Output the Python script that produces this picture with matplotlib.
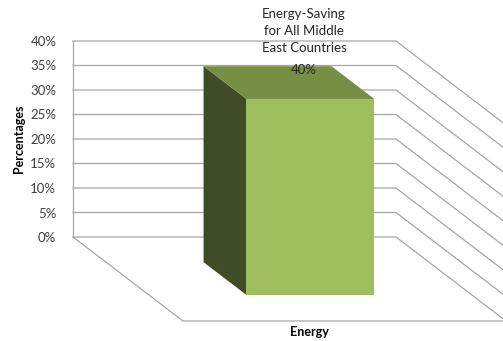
import numpy as np
import matplotlib.pyplot as plt
from matplotlib.patches import Polygon
from matplotlib.ticker import PercentFormatter

# Data
categories = ['Energy']
series_name = 'Energy-Saving\nfor All Middle\nEast Countries'
values = [40]
yticks = [0, 5, 10, 15, 20, 25, 30, 35, 40]

plt.rcParams['font.family'] = ['Lato', 'DejaVu Sans']

fig = plt.figure(figsize=(5.03, 3.41), dpi=100)
# back wall of the 3D plot area
ax = fig.add_axes([73/503, (341-237)/341, 323/503, 196/341])
ax.set_xlim(-0.5, 0.5)
ax.set_ylim(0, 40)
ax.patch.set_visible(False)
for s in ['top', 'right', 'bottom']:
    ax.spines[s].set_visible(False)
ax.spines['left'].set_color('#a6a6a6')
ax.spines['left'].set_linewidth(0.9)
ax.set_xticks([])
ax.set_yticks(yticks)
ax.yaxis.set_major_formatter(PercentFormatter(decimals=0))
ax.tick_params(axis='y', length=0, pad=12, labelsize=9.5, labelcolor='#404040')
ax.set_ylabel('Percentages', fontsize=9, fontweight='bold', labelpad=4)
fig.text(309/503, 1 - 332/341, categories[0], ha='center', va='center',
         fontsize=9, fontweight='bold')

# depth offset (pixels at full depth)
DX, DY = 110, 84
to_fig = fig.transFigure.inverted()

def P(x, v, d):
    px, py = ax.transData.transform((x, v))
    return to_fig.transform((px + d*DX, py - d*DY))

grid_kw = dict(color='#a6a6a6', lw=0.9, transform=fig.transFigure, clip_on=False)

# gridlines: back wall + side wall
for v in yticks:
    pts = np.array([P(-0.5, v, 0), P(0.5, v, 0), P(0.5, v, 1)])
    ax.plot(pts[:, 0], pts[:, 1], zorder=1, **grid_kw)
# floor edges
pts = np.array([P(-0.5, 0, 0), P(-0.5, 0, 1), P(0.5, 0, 1)])
ax.plot(pts[:, 0], pts[:, 1], zorder=1, **grid_kw)

# 3D bar
bw = 0.396
d0, d1 = 0.3, 0.69
for i, val in enumerate(values):
    xl, xr = i - bw/2, i + bw/2
    side = [P(xl, 0, d0), P(xl, val, d0), P(xl, val, d1), P(xl, 0, d1)]
    top = [P(xl, val, d0), P(xr, val, d0), P(xr, val, d1), P(xl, val, d1)]
    front = [P(xl, 0, d1), P(xr, 0, d1), P(xr, val, d1), P(xl, val, d1)]
    for poly, c in [(side, '#404c25'), (top, '#778f44'), (front, '#9fbe5d')]:
        ax.add_patch(Polygon(poly, closed=True, facecolor=c, edgecolor='none',
                             transform=fig.transFigure, clip_on=False, zorder=3))
    fig.text(304/503, 1 - 8/341, series_name, ha='center', va='top',
             fontsize=9.5, color='#262626', linespacing=1.5)
    fig.text(304/503, 1 - 64/341, f'{val}%', ha='center', va='top',
             fontsize=9.5, color='#262626')

fig.savefig('out.png', dpi=100)
